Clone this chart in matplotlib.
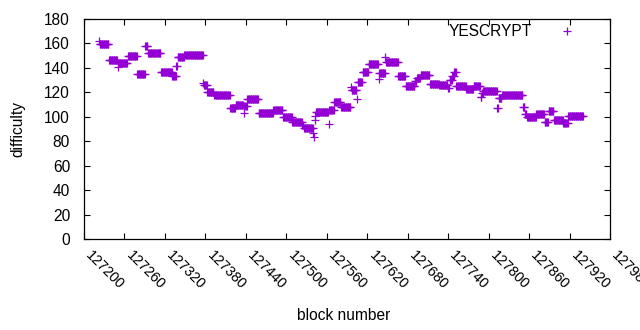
"""
plot.py — Difficulté YESCRYPT en fonction du numéro de bloc (style gnuplot).
"""

import numpy as np
import matplotlib
matplotlib.use("Agg")
import matplotlib.pyplot as plt
from matplotlib.transforms import ScaledTranslation


# ---------------------------------------------------------------------------
# Données : plages de blocs à difficulté constante
# ---------------------------------------------------------------------------

BASE_BLOCK = 127200

# premier et dernier bloc de chaque plage (décalage par rapport à BASE_BLOCK)
seg_first = [22, 23, 37, 50, 51, 65, 79, 91, 95, 114, 131, 137, 139, 149, 177,
             178, 183, 193, 217, 225, 237, 238, 242, 259, 281, 295, 309, 324,
             326, 340, 341, 342, 343, 344, 363, 364, 371, 381, 396, 397, 405,
             406, 413, 422, 437, 438, 447, 448, 466, 477, 491, 494, 499, 513,
             527, 540, 542, 546, 549, 552, 567, 578, 588, 590, 592, 613, 615,
             620, 651, 654, 657, 671, 683, 689, 697, 711, 718]
seg_last = [22, 36, 49, 50, 64, 78, 90, 94, 113, 130, 136, 138, 148, 176, 177,
            182, 192, 216, 224, 236, 237, 241, 258, 280, 294, 308, 323, 325,
            339, 340, 341, 342, 343, 362, 363, 370, 380, 395, 396, 404, 405,
            412, 421, 436, 437, 446, 447, 465, 476, 490, 493, 498, 512, 526,
            539, 541, 545, 548, 551, 566, 577, 587, 589, 591, 612, 614, 619,
            650, 653, 656, 670, 682, 688, 696, 710, 717, 740]
seg_diff = [162, 159.5, 146.5, 140.5, 144, 149.8, 135, 158, 152, 136.5, 133.5,
            141.5, 149, 150.5, 128, 126, 120, 118, 107, 110, 103, 109, 114.5,
            103, 105.5, 100, 96, 93, 91, 86.5, 83.5, 97.5, 101, 104, 94, 105.5,
            112, 107.8, 124, 122, 114.3, 128.5, 137, 143, 131, 135.5, 148.7,
            144.5, 133, 125, 129, 131.5, 134.5, 127, 126, 123.3, 130, 133,
            136.4, 125, 123, 125, 116.5, 119.5, 121.4, 107.5, 115, 117.5,
            108.3, 102.3, 99.5, 102, 96, 104.5, 97.7, 95, 100.5]

x_ticks = list(range(127200, 127981, 60))
y_ticks = list(range(0, 181, 20))

SERIES_LABEL = "YESCRYPT"
COLOR = "#9400D3"
FONT = "Liberation Sans"


# ---------------------------------------------------------------------------
# Développement des plages en un point par bloc
# ---------------------------------------------------------------------------

blocks = []
diffs = []
for first, last, d in zip(seg_first, seg_last, seg_diff):
    for b in range(first, last + 1):
        blocks.append(BASE_BLOCK + b)
        diffs.append(d)
blocks = np.array(blocks)
diffs = np.array(diffs)


# ---------------------------------------------------------------------------
# Figure
# ---------------------------------------------------------------------------

plt.rcParams["font.family"] = [FONT, "DejaVu Sans"]
plt.rcParams["font.size"] = 11.2

fig = plt.figure(figsize=(6.4, 3.3), dpi=100)
ax = fig.add_axes([84 / 640, 1 - 239 / 330, 526 / 640, 220 / 330])

ax.plot(blocks, diffs, linestyle="none", marker="+", markersize=5.4,
        markeredgewidth=0.9, color=COLOR, label=SERIES_LABEL,
        antialiased=False)

ax.set_xlim(x_ticks[0], x_ticks[-1])
ax.set_ylim(y_ticks[0], y_ticks[-1])
ax.set_xticks(x_ticks)
ax.set_yticks(y_ticks)
ax.set_xticklabels([str(t) for t in x_ticks], rotation=-45, ha="left",
                   va="center", rotation_mode="anchor", fontsize=10.4)

ax.tick_params(direction="in", top=True, right=True, length=4, width=0.8,
               colors="black")
ax.tick_params(axis="x", pad=10)
ax.tick_params(axis="y", pad=10, labelsize=11.2)
for sp in ax.spines.values():
    sp.set_linewidth(0.9)

# décalage horizontal des étiquettes tournées (comme gnuplot)
shift = ScaledTranslation(4 / 100, 0, fig.dpi_scale_trans)
for lab in ax.get_xticklabels():
    lab.set_transform(lab.get_transform() + shift)

ax.set_xlabel("block number", fontsize=11.2)
ax.xaxis.set_label_coords(0.494, -0.315)
ax.set_ylabel("difficulty", fontsize=11.2, labelpad=14)

ax.legend(loc="center right", bbox_to_anchor=(0.948, 0.941), frameon=False,
          markerfirst=False, borderpad=0, borderaxespad=0, handlelength=2,
          handletextpad=1.25, fontsize=11.2)

fig.savefig("out.png", dpi=100)
